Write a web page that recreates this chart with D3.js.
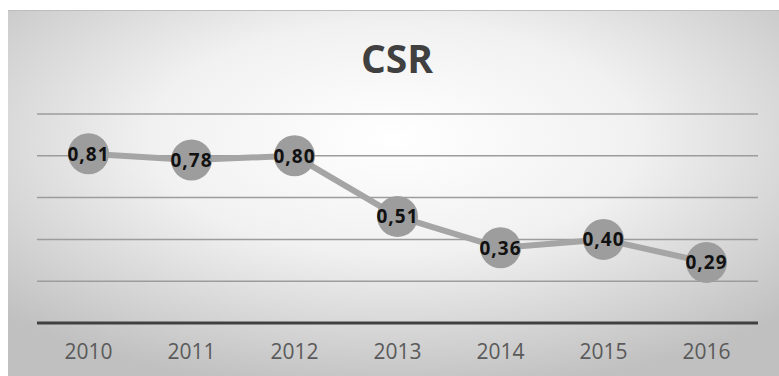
<!DOCTYPE html>
<html>
<head>
<meta charset="utf-8">
<script src="https://cdn.jsdelivr.net/npm/d3@7"></script>
<style>
  html, body { margin: 0; padding: 0; background: #ffffff; }
  svg { display: block; }
</style>
</head>
<body>
<svg id="chart" width="779" height="376"></svg>
<script>
// CSR index by year
const years = ["2010", "2011", "2012", "2013", "2014", "2015", "2016"];
const csrValues = [0.81, 0.78, 0.80, 0.51, 0.36, 0.40, 0.29];
const gridTicks = [0, 0.2, 0.4, 0.6, 0.8, 1.0];
const chartTitle = "CSR";

const svg = d3.select("#chart");
const W = 779, H = 376;

// Panel background: soft radial gradient, light in the middle, grey at the edges
const defs = svg.append("defs");
const grad = defs.append("radialGradient")
  .attr("id", "bg")
  .attr("cx", "50%").attr("cy", "35%").attr("r", "70%");
grad.append("stop").attr("offset", "0%").attr("stop-color", "#ffffff");
grad.append("stop").attr("offset", "45%").attr("stop-color", "#f1f1f1");
grad.append("stop").attr("offset", "100%").attr("stop-color", "#c0c0c0");

svg.append("rect")
  .attr("x", 8).attr("y", 10)
  .attr("width", W - 8).attr("height", H - 10)
  .attr("fill", "url(#bg)");
svg.append("line")
  .attr("x1", 8).attr("x2", W).attr("y1", 10.5).attr("y2", 10.5)
  .attr("stroke", "#bdbdbd").attr("stroke-width", 1);

const plot = { left: 37, right: 758, top: 114, bottom: 323 };

const x = d3.scaleBand()
  .domain(years)
  .range([plot.left, plot.right]);

const y = d3.scaleLinear()
  .domain([0, 1])
  .range([plot.bottom, plot.top]);

// Title
svg.append("text")
  .attr("x", 397).attr("y", 73)
  .attr("text-anchor", "middle")
  .attr("font-family", "'Open Sans', sans-serif")
  .attr("font-weight", "700")
  .attr("font-size", 39)
  .attr("fill", "#404040")
  .text(chartTitle);

// Horizontal gridlines
svg.append("g")
  .selectAll("line")
  .data(gridTicks.filter(d => d > 0))
  .join("line")
  .attr("x1", plot.left).attr("x2", plot.right)
  .attr("y1", d => y(d)).attr("y2", d => y(d))
  .attr("stroke", "#9c9c9c")
  .attr("stroke-width", 1.5);

// Category axis
const xAxis = svg.append("g")
  .attr("transform", `translate(0,${y(0)})`)
  .call(d3.axisBottom(x).tickSize(0).tickPadding(21));
xAxis.select(".domain")
  .attr("stroke", "#404040")
  .attr("stroke-width", 3)
  .attr("d", `M${plot.left},0H${plot.right}`);
xAxis.selectAll("text")
  .attr("font-family", "'Open Sans', sans-serif")
  .attr("font-size", 21)
  .attr("fill", "#5a5a5a");

const cx = d => x(d) + x.bandwidth() / 2;
const pts = years.map((yr, i) => ({ year: yr, value: csrValues[i] }));

// Series line
svg.append("path")
  .datum(pts)
  .attr("fill", "none")
  .attr("stroke", "#a5a5a5")
  .attr("stroke-width", 6)
  .attr("stroke-linejoin", "round")
  .attr("d", d3.line().x(d => cx(d.year)).y(d => y(d.value)));

// Markers
svg.append("g")
  .selectAll("circle")
  .data(pts)
  .join("circle")
  .attr("cx", d => cx(d.year))
  .attr("cy", d => y(d.value))
  .attr("r", 20.5)
  .attr("fill", "#9d9d9d");

// Value labels
const fmt = v => v.toFixed(2).replace(".", ",");
svg.append("g")
  .selectAll("text")
  .data(pts)
  .join("text")
  .attr("x", d => cx(d.year))
  .attr("y", d => y(d.value))
  .attr("dy", "0.36em")
  .attr("text-anchor", "middle")
  .attr("font-family", "'Open Sans', sans-serif")
  .attr("font-weight", "700")
  .attr("font-size", 19)
  .attr("letter-spacing", 1)
  .attr("fill", "#111111")
  .text(d => fmt(d.value));
</script>
</body>
</html>
